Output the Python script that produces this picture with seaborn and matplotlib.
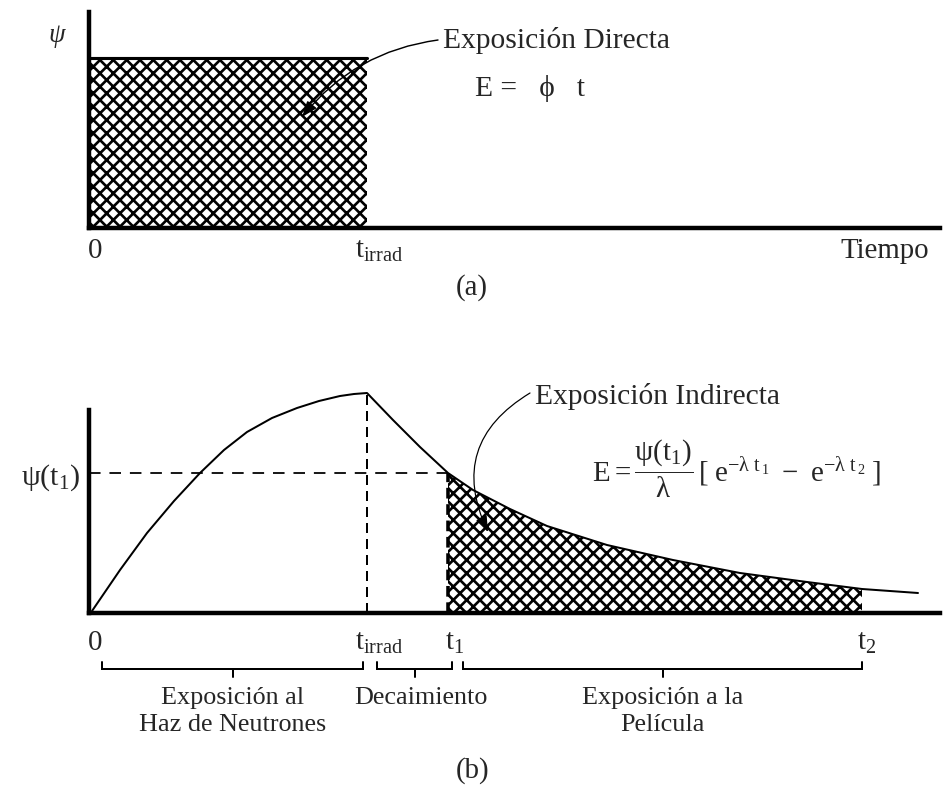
import numpy as np
import pandas as pd
import matplotlib
matplotlib.use("Agg")
import matplotlib.pyplot as plt
import seaborn as sns

# --- values (time in arbitrary units, flux in arbitrary units) ---
t_irrad = 2.78
psi_direct = 1.70
t1 = 3.59
t2 = 7.73

t_curve = [0.03, 0.31, 0.58, 0.85, 1.11, 1.35, 1.58, 1.83, 2.08, 2.30, 2.51, 2.65, 2.78,
           3.04, 3.31, 3.59, 3.84, 4.21, 4.58, 5.18, 5.84, 6.51, 7.18, 7.73, 8.29]
psi_curve = [0.02, 0.43, 0.80, 1.12, 1.40, 1.63, 1.81, 1.95, 2.05, 2.12, 2.17, 2.19, 2.20,
             1.93, 1.66, 1.40, 1.23, 1.04, 0.87, 0.68, 0.53, 0.40, 0.31, 0.24, 0.20]

period_labels = [("Exposición al", "Haz de Neutrones"), ("Decaimiento", ""),
                 ("Exposición a la", "Película")]
period_spans = [(0.13, 2.74), (2.88, 3.63), (3.74, 7.73)]

sns.set_style("white")
plt.rcParams["font.family"] = ["Liberation Serif", "DejaVu Serif"]
plt.rcParams["mathtext.fontset"] = "custom"
plt.rcParams["mathtext.rm"] = "Liberation Serif"
plt.rcParams["mathtext.it"] = "Liberation Serif"
plt.rcParams["mathtext.bf"] = "Liberation Serif:bold"
plt.rcParams["hatch.linewidth"] = 2.4
plt.rcParams["hatch.color"] = "black"

DPI = 80
W, H = 945, 794
fig = plt.figure(figsize=(W / DPI, H / DPI), dpi=DPI)
fig.patch.set_facecolor("white")


def axes_px(left, right, y0, top):
    return fig.add_axes([left / W, 1 - y0 / H, (right - left) / W, (y0 - top) / H])


BIG = 26.5
LAB = 26
SMALL = 23.5
HATCH = "xx"
ARROW = "-|>,head_length=1.2,head_width=0.45"


def style_axes(ax, ymax, ytop):
    ax.set_xlim(0, 8.51)
    ax.set_ylim(0, ymax)
    ax.set_xticks([])
    ax.set_yticks([])
    sns.despine(ax=ax)
    for s in ("left", "bottom"):
        ax.spines[s].set_linewidth(4)
        ax.spines[s].set_color("black")
        ax.spines[s].set_capstyle("projecting")
    ax.spines["left"].set_bounds(0, ytop)
    ax.patch.set_alpha(0)


# ---------------- (a) direct exposure ----------------
ax_a = axes_px(89, 940, 228, 12)
style_axes(ax_a, 2.16, 2.16)

ax_a.fill_between([0, t_irrad], [0, 0], [psi_direct, psi_direct], facecolor="white",
                  edgecolor="black", hatch=HATCH, linewidth=0)
sns.lineplot(x=[0, t_irrad], y=[psi_direct, psi_direct], ax=ax_a, color="black", lw=2.8)

ax_a.text(-0.32, 1.92, "ψ", fontsize=24, ha="center", va="center", style="italic")
ax_a.text(0.06, -0.30, "0", fontsize=LAB, ha="center", va="baseline")
ax_a.text(2.66, -0.30, r"$\mathrm{t}_{\mathrm{irrad}}$", fontsize=LAB, ha="left", va="baseline")
ax_a.text(7.96, -0.30, "Tiempo", fontsize=LAB, ha="center", va="baseline")
ax_a.text(3.83, -0.60, "(a)", fontsize=LAB, ha="center", va="center")

ax_a.text(3.54, 1.88, "Exposición Directa", fontsize=BIG, ha="left", va="center")
ax_a.text(3.86, 1.40, "E =   ϕ   t", fontsize=BIG, ha="left", va="center")
ax_a.annotate("", xy=(2.13, 1.11), xytext=(3.49, 1.88),
              arrowprops=dict(arrowstyle=ARROW, color="black", lw=1.3,
                              shrinkA=0, shrinkB=0, connectionstyle="arc3,rad=0.2"))

# ---------------- (b) indirect exposure ----------------
ax_b = axes_px(89, 940, 613, 388)
style_axes(ax_b, 2.25, 2.03)

curve = pd.DataFrame({"t": t_curve, "psi": psi_curve})
i1 = t_curve.index(t1)
i2 = t_curve.index(t2)
psi_t1 = psi_curve[i1]
psi_peak = psi_curve[t_curve.index(t_irrad)]

ax_b.fill_between(t_curve[i1:i2 + 1], 0, psi_curve[i1:i2 + 1], facecolor="white",
                  edgecolor="black", hatch=HATCH, linewidth=0)
sns.lineplot(data=curve, x="t", y="psi", ax=ax_b, color="black", lw=1.8,
             estimator=None, sort=False)

ax_b.plot([0, t1], [psi_t1, psi_t1], color="black", lw=1.6, dashes=(6.5, 5))
ax_b.plot([t_irrad, t_irrad], [0, psi_peak], color="black", lw=1.8, dashes=(5, 3))
ax_b.plot([t1, t1], [0, psi_t1], color="black", lw=3.2, dashes=(3, 1.6))

ax_b.text(-0.09, 1.35, r"$\psi(\mathrm{t}_1)$", fontsize=27, ha="right", va="center")
ax_b.text(0.06, -0.37, "0", fontsize=LAB, ha="center", va="baseline")
ax_b.text(2.66, -0.37, r"$\mathrm{t}_{\mathrm{irrad}}$", fontsize=LAB, ha="left", va="baseline")
ax_b.text(3.56, -0.37, r"$\mathrm{t}_1$", fontsize=LAB, ha="left", va="baseline")
ax_b.text(7.68, -0.37, r"$\mathrm{t}_2$", fontsize=LAB, ha="left", va="baseline")

label_x = [None, 3.32, None]
for (a, b), (line1, line2), lx in zip(period_spans, period_labels, label_x):
    mid = (a + b) / 2
    ax_b.plot([a, a, b, b], [-0.49, -0.56, -0.56, -0.49], color="black", lw=1.8,
              clip_on=False, solid_joinstyle="miter")
    ax_b.plot([mid, mid], [-0.56, -0.64], color="black", lw=1.8, clip_on=False)
    cx = mid if lx is None else lx
    ax_b.text(cx, -0.85, line1, fontsize=SMALL, ha="center", va="center")
    if line2:
        ax_b.text(cx, -1.12, line2, fontsize=SMALL, ha="center", va="center")

ax_b.text(3.84, -1.58, "(b)", fontsize=LAB, ha="center", va="center")

ax_b.text(4.46, 2.16, "Exposición Indirecta", fontsize=BIG, ha="left", va="center")

ax_b.text(5.03, 1.31,
          r"$\mathrm{E} = \dfrac{\psi(\mathrm{t}_1)}{\lambda}\,[\;\mathrm{e}^{-\lambda\ \mathrm{t}_{\,1}}"
          r"\ -\ \mathrm{e}^{-\lambda\ \mathrm{t}_{\,2}}\;]$",
          fontsize=26, ha="left", va="baseline")

ax_b.annotate("", xy=(3.99, 0.81), xytext=(4.41, 2.20),
              arrowprops=dict(arrowstyle=ARROW, color="black", lw=1.1,
                              shrinkA=0, shrinkB=0, connectionstyle="arc3,rad=0.45"))

fig.savefig("out.png", dpi=DPI, facecolor="white")
